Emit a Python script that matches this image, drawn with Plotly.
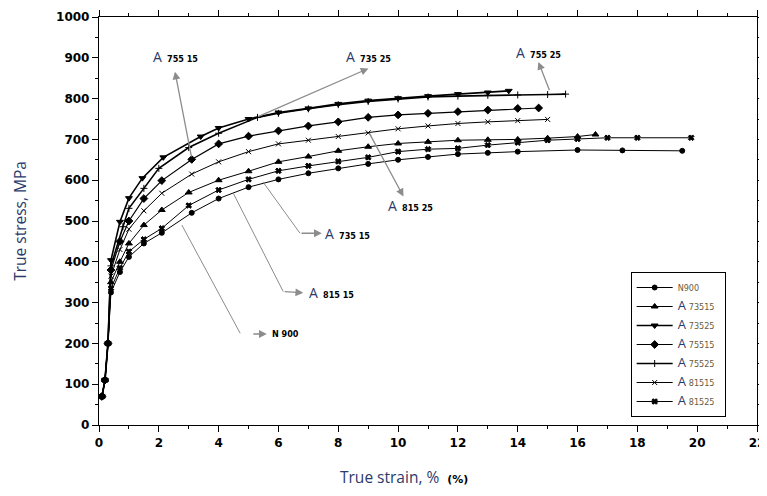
import plotly.graph_objects as go

# ---------------- data ----------------
names = ["N900", "A 73515", "A 73525", "A 75515", "A 75525", "A 81515", "A 81525"]

n900_x = [0.1, 0.2, 0.3, 0.4, 0.7, 1.0, 1.5, 2.1, 3.1, 4.0, 5.0, 6.0, 7.0, 8.0, 9.0, 10.0, 11.0, 12.0, 13.0, 14.0, 16.0, 17.5, 19.5]
n900_y = [70, 110, 200, 325, 375, 412, 445, 471, 520, 555, 583, 602, 617, 629, 640, 650, 657, 664, 667, 670, 674, 673, 672]

a73515_x = [0.1, 0.2, 0.3, 0.4, 0.7, 1.0, 1.5, 2.1, 3.0, 4.0, 5.0, 6.0, 7.0, 8.0, 9.0, 10.0, 11.0, 12.0, 13.0, 14.0, 15.0, 16.0, 16.6]
a73515_y = [70, 110, 200, 350, 400, 445, 490, 527, 570, 600, 622, 645, 658, 672, 682, 690, 694, 698, 699, 700, 703, 707, 712]

a73525_x = [0.1, 0.2, 0.3, 0.4, 0.7, 1.0, 1.45, 2.15, 3.4, 4.0, 5.0, 6.0, 7.0, 8.0, 9.0, 10.0, 11.0, 12.0, 13.0, 13.7]
a73525_y = [70, 110, 200, 404, 498, 556, 605, 656, 707, 728, 750, 766, 776, 787, 795, 801, 806, 811, 815, 819]

a75515_x = [0.1, 0.2, 0.3, 0.4, 0.7, 1.0, 1.5, 2.1, 3.1, 4.0, 5.0, 6.0, 7.0, 8.0, 9.0, 10.0, 11.0, 12.0, 13.0, 14.0, 14.7]
a75515_y = [70, 110, 200, 380, 450, 500, 555, 599, 651, 689, 708, 721, 733, 743, 754, 760, 764, 768, 772, 776, 777]

a75525_x = [0.1, 0.2, 0.3, 0.4, 0.8, 1.0, 1.5, 2.0, 3.0, 4.0, 5.3, 6.0, 7.0, 8.0, 9.0, 10.0, 11.0, 12.0, 13.0, 14.0, 15.0, 15.6]
a75525_y = [70, 110, 200, 390, 486, 531, 580, 629, 680, 715, 754, 764, 775, 785, 793, 799, 804, 806, 808, 809, 810, 811]

a81515_x = [0.1, 0.2, 0.3, 0.4, 0.7, 1.0, 1.5, 2.1, 3.1, 4.0, 5.0, 6.0, 7.0, 8.0, 9.0, 10.0, 11.0, 12.0, 13.0, 14.0, 15.0]
a81515_y = [70, 110, 200, 365, 430, 480, 525, 568, 615, 645, 670, 689, 698, 707, 716, 726, 733, 739, 743, 746, 749]

a81525_x = [0.1, 0.2, 0.3, 0.4, 0.7, 1.0, 1.5, 2.1, 3.0, 4.0, 5.0, 6.0, 7.0, 8.0, 9.0, 10.0, 11.0, 12.0, 13.0, 14.0, 15.0, 16.0, 17.0, 18.0, 19.8]
a81525_y = [70, 110, 200, 335, 385, 425, 455, 482, 538, 576, 602, 623, 635, 646, 656, 670, 676, 678, 686, 692, 698, 701, 704, 704, 704]

x_ticks = [0, 2, 4, 6, 8, 10, 12, 14, 16, 18, 20, 22]
y_ticks = [0, 100, 200, 300, 400, 500, 600, 700, 800, 900, 1000]

series = [
    (names[0], n900_x, n900_y, "circle", 5, 1.0),
    (names[1], a73515_x, a73515_y, "triangle-up", 6, 1.0),
    (names[2], a73525_x, a73525_y, "triangle-down", 6, 1.6),
    (names[3], a75515_x, a75515_y, "diamond", 6, 1.2),
    (names[4], a75525_x, a75525_y, "cross-thin", 5, 1.6),
    (names[5], a81515_x, a81515_y, "x-thin", 5, 1.0),
    (names[6], a81525_x, a81525_y, "x", 5, 1.0),
]

NAVY = "#2b3a6b"
PAD = "\u00a0\u00a0"

def legend_name(nm):
    if nm.startswith("A "):
        return ("<span style='font-family:Open Sans;font-size:13px;color:" + NAVY + "'>A</span> "
                "<span style='font-size:9px'>" + nm[2:] + PAD + "</span>")
    return "<span style='font-size:9px'>" + nm + "</span>"

fig = go.Figure()
for nm, xs, ys, sym, sz, lw in series:
    fig.add_trace(go.Scatter(
        x=xs, y=ys, name=legend_name(nm), mode="lines+markers",
        line=dict(color="black", width=lw),
        marker=dict(symbol=sym, size=sz, color="black",
                    line=dict(color="black", width=1)),
    ))

GRAY = "#8c8c8c"
LBL = dict(family="DejaVu Sans Condensed, DejaVu Sans", size=9, color="black")

def label(txt, x, y, xanchor="center"):
    if txt[0].isdigit():
        t = ("<span style='font-family:Open Sans;font-size:14px;color:" + NAVY + "'>A</span>  <b>"
             + txt + "</b>")
    else:
        t = "<b>" + txt + "</b>"
    fig.add_annotation(x=x, y=y, xref="x", yref="y", showarrow=False,
                       xanchor=xanchor, text=t, font=LBL)

def arrow(tx, ty, hx, hy):
    fig.add_annotation(
        x=hx, y=hy, ax=tx, ay=ty, xref="x", yref="y", axref="x", ayref="y",
        text="", showarrow=True, arrowhead=2, arrowsize=1.2, arrowwidth=1.3,
        arrowcolor=GRAY, standoff=0, startstandoff=0)

def seg(x0, y0, x1, y1):
    fig.add_shape(type="line", x0=x0, y0=y0, x1=x1, y1=y1, xref="x", yref="y",
                  line=dict(color=GRAY, width=1))

# arrows with labels
arrow(3.10, 654, 2.54, 866); label("755 15", 2.55, 903)
arrow(5.27, 754, 9.01, 874); label("735 25", 9.0, 903)
arrow(9.01, 719, 10.18, 560); label("815 25", 10.4, 539)
arrow(15.08, 817, 14.69, 890); label("755 25", 14.7, 913)
seg(5.48, 596, 6.72, 470); arrow(6.72, 470, 7.45, 470); label("735 15", 7.5, 470, "left")
seg(4.49, 568, 6.16, 327); arrow(6.16, 327, 6.83, 324); label("815 15", 6.95, 324, "left")
seg(2.77, 490, 4.72, 225); arrow(5.11, 223, 5.61, 223); label("N 900", 5.72, 223, "left")

# x-axis title (placed as paper annotation to match the off-centre position)
fig.add_annotation(
    x=0.4635, y=-0.128, xref="paper", yref="paper", showarrow=False,
    xanchor="center", yanchor="middle",
    text="True strain, %  <b><span style='font-family:DejaVu Sans;font-size:11px;color:black'>(%)</span></b>",
    font=dict(family="Open Sans", size=15.5, color=NAVY))

axis_common = dict(
    showline=True, linecolor="black", linewidth=1.3, mirror="ticks",
    ticks="outside", ticklen=6, tickwidth=1.3, tickcolor="black",
    showgrid=False, zeroline=False, automargin=False,
    tickfont=dict(family="DejaVu Sans", size=12, color="black", weight="bold"),
)

fig.update_xaxes(
    range=[0, 22], tickvals=x_ticks,
    minor=dict(dtick=1, ticks="outside", ticklen=3, tickcolor="black", tickwidth=1),
    **axis_common)
fig.update_yaxes(
    range=[0, 1000], tickvals=y_ticks,
    minor=dict(dtick=50, ticks="outside", ticklen=3, tickcolor="black", tickwidth=1),
    title=dict(text="True stress, MPa",
               font=dict(family="Open Sans", size=15.5, color=NAVY), standoff=25),
    **axis_common)

# page body adds an 8px offset; size/margins compensate so the plot area sits at 99..757 x 17..425
fig.update_layout(
    width=759, height=488,
    margin=dict(l=91, r=10, t=9, b=71),
    plot_bgcolor="white", paper_bgcolor="white",
    showlegend=True,
    legend=dict(x=0.808, y=0.375, xanchor="left", yanchor="top",
                bordercolor="black", borderwidth=1, bgcolor="white",
                font=dict(family="DejaVu Sans Condensed, DejaVu Sans", size=10, color="#6a5a3a"),
                tracegroupgap=0, itemwidth=36),
)

fig.write_html("out.html")
